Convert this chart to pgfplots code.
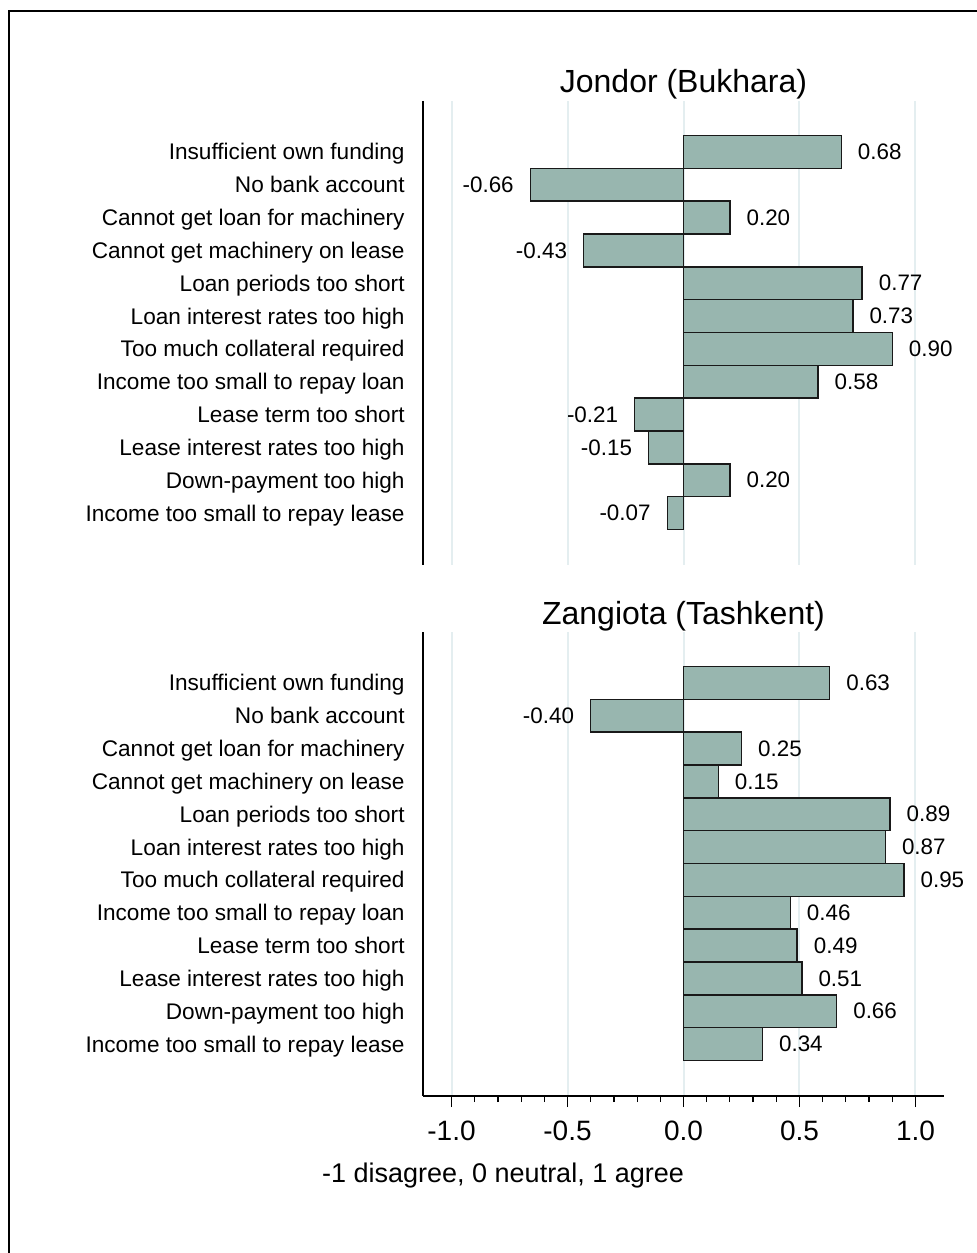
\documentclass[border=0pt]{standalone}
\usepackage{pgfplots}
\pgfplotsset{compat=1.18}
\usepackage{pgfplotstable}
\usepackage{fontspec}
\setmainfont{Liberation Sans}

\definecolor{barfill}{HTML}{98B6AF}
\definecolor{gridc}{HTML}{E4EEF0}

\pgfplotstableread{
pos val
1 0.68
2 -0.66
3 0.20
4 -0.43
5 0.77
6 0.73
7 0.90
8 0.58
9 -0.21
10 -0.15
11 0.20
12 -0.07
}\jondor

\pgfplotstableread{
pos val
1 0.63
2 -0.40
3 0.25
4 0.15
5 0.89
6 0.87
7 0.95
8 0.46
9 0.49
10 0.51
11 0.66
12 0.34
}\zangiota

\pgfplotsset{
  panel/.style={
    scale only axis,
    width=260.5pt, height=232pt,
    xmin=-1.123, xmax=1.123,
    ymin=-0.55, ymax=13.58,
    y dir=reverse,
    axis lines*=left,
    axis line style={line width=0.7pt, black},
    xtick={-1,-0.5,0,0.5,1},
    xmajorgrids,
    major grid style={gridc, line width=1pt},
    ytick={1,...,12},
    yticklabels={
      Insufficient own funding,
      No bank account,
      Cannot get loan for machinery,
      Cannot get machinery on lease,
      Loan periods too short,
      Loan interest rates too high,
      Too much collateral required,
      Income too small to repay loan,
      Lease term too short,
      Lease interest rates too high,
      Down-payment too high,
      Income too small to repay lease},
    ytick style={draw=none},
    yticklabel style={font=\fontsize{11.3}{13}\selectfont, anchor=base east, inner xsep=0pt, xshift=-9pt, yshift=-4pt},
    title style={font=\fontsize{16}{19}\selectfont, at={(0.5,1)}, anchor=base, yshift=-2pt},
    clip=false,
  },
  bars/.style={
    xbar, bar width=1, bar shift=0,
    fill=barfill, draw=black!90, line width=0.7pt,
    point meta=x,
    nodes near coords={\pgfmathprintnumber[fixed,precision=2,zerofill,assume math mode=true]{\pgfplotspointmeta}},
    nodes near coords align={horizontal},
    every node near coord/.append style={font=\fontsize{11.2}{13}\selectfont, inner xsep=8pt, black},
  },
}

\begin{document}
\begin{tikzpicture}
\useasboundingbox (0,0) rectangle (488pt,626.5pt);
\draw[line width=1pt] (4.5pt,-20pt) -- (4.5pt,620.75pt) -- (510pt,620.75pt);

\begin{axis}[panel,
  at={(211.5pt,344pt)}, anchor=south west,
  title={Jondor (Bukhara)},
  x axis line style={draw=none},
  xtick style={draw=none},
  xticklabels={},
]
\addplot[bars] table[x=val, y=pos] {\jondor};
\end{axis}

\begin{axis}[panel,
  at={(211.5pt,78.5pt)}, anchor=south west,
  title={Zangiota (Tashkent)},
  minor x tick num=4,
  tick align=outside,
  major tick length=5.5pt,
  minor tick length=3pt,
  xtick style={black, line width=0.6pt},
  yticklabel style={xshift=5.5pt},
  xticklabel style={font=\fontsize{14}{16}\selectfont, anchor=base, yshift=-16.5pt},
  xticklabel={\pgfmathprintnumber[fixed,precision=1,zerofill,assume math mode=true]{\tick}},
  xlabel={-1 disagree, 0 neutral, 1 agree},
  xlabel style={font=\fontsize{13.5}{16}\selectfont, at={(axis description cs:0.1536,-0.1864)}, anchor=base},
]
\addplot[bars] table[x=val, y=pos] {\zangiota};
\end{axis}
\end{tikzpicture}
\end{document}
